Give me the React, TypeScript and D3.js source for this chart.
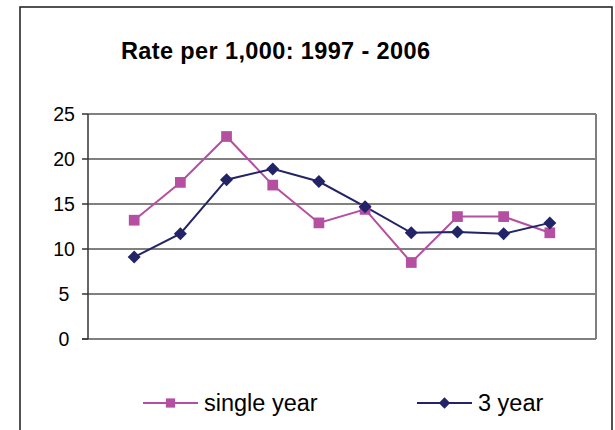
import { useRef, useEffect } from "react";
import * as d3 from "d3";

const years = ["1997", "1998", "1999", "2000", "2001", "2002", "2003", "2004", "2005", "2006"];
const singleYear = [13.2, 17.4, 22.5, 17.1, 12.9, 14.4, 8.5, 13.6, 13.6, 11.8];
const threeYear = [9.1, 11.7, 17.7, 18.9, 17.5, 14.7, 11.8, 11.9, 11.7, 12.9];
const yTicks = [0, 5, 10, 15, 20, 25];

const PINK = "#B44FA2";
const NAVY = "#232368";
const FONT = "Liberation Sans, Arial, sans-serif";

export default function App() {
  const svgRef = useRef<SVGSVGElement>(null);

  useEffect(() => {
    if (!svgRef.current) return;
    const svg = d3.select(svgRef.current);
    svg.selectAll("*").remove();

    const left = 88;
    const right = 596;
    const top = 114;
    const bottom = 339;

    const x = d3.scalePoint<string>().domain(years).range([left, right]).padding(1);
    const y = d3.scaleLinear().domain([0, 25]).range([bottom, top]);

    // outer frame
    svg
      .append("path")
      .attr("d", `M20,440 V7 H612 V440`)
      .attr("fill", "none")
      .attr("stroke", "#1a1a1a")
      .attr("stroke-width", 1.5);

    // title
    svg
      .append("text")
      .attr("x", 275.5)
      .attr("y", 59)
      .attr("text-anchor", "middle")
      .attr("font-family", FONT)
      .attr("font-weight", "bold")
      .attr("font-size", 23.5)
      .attr("textLength", 309)
      .attr("lengthAdjust", "spacing")
      .attr("fill", "#000")
      .text("Rate per 1,000: 1997 - 2006");

    // gridlines
    yTicks.forEach((t) => {
      svg
        .append("line")
        .attr("x1", t === 0 ? left - 6 : left)
        .attr("x2", right)
        .attr("y1", y(t))
        .attr("y2", y(t))
        .attr("stroke", "#808080")
        .attr("stroke-width", 2);
    });

    // plot right border
    svg
      .append("line")
      .attr("x1", right)
      .attr("x2", right)
      .attr("y1", top)
      .attr("y2", bottom)
      .attr("stroke", "#808080")
      .attr("stroke-width", 2);

    // y axis
    svg
      .append("line")
      .attr("x1", left)
      .attr("x2", left)
      .attr("y1", top)
      .attr("y2", bottom)
      .attr("stroke", "#333")
      .attr("stroke-width", 1.5);

    yTicks.forEach((t) => {
      svg
        .append("line")
        .attr("x1", left - 6)
        .attr("x2", left)
        .attr("y1", y(t))
        .attr("y2", y(t))
        .attr("stroke", "#333")
        .attr("stroke-width", 1.5);
      svg
        .append("text")
        .attr("x", 64)
        .attr("y", y(t))
        .attr("dy", "0.36em")
        .attr("text-anchor", "middle")
        .attr("font-family", FONT)
        .attr("font-size", 19.5)
        .attr("fill", "#000")
        .text(t);
    });

    const line = d3
      .line<number>()
      .x((_, i) => x(years[i])!)
      .y((d) => y(d));

    const square = d3.symbol().type(d3.symbolSquare).size(115);
    const diamond = d3.symbol().type(d3.symbolSquare).size(85);

    // single year
    svg
      .append("path")
      .attr("d", line(singleYear)!)
      .attr("fill", "none")
      .attr("stroke", PINK)
      .attr("stroke-width", 2);

    // 3 year
    svg
      .append("path")
      .attr("d", line(threeYear)!)
      .attr("fill", "none")
      .attr("stroke", NAVY)
      .attr("stroke-width", 2);

    svg
      .selectAll(".sq")
      .data(singleYear)
      .join("path")
      .attr("d", square()!)
      .attr("transform", (d, i) => `translate(${x(years[i])},${y(d)})`)
      .attr("fill", PINK);

    svg
      .selectAll(".dm")
      .data(threeYear)
      .join("path")
      .attr("d", diamond()!)
      .attr("transform", (d, i) => `translate(${x(years[i])},${y(d)}) rotate(45)`)
      .attr("fill", NAVY);

    // legend
    const legend = [
      { label: "single year", color: PINK, size: 85, rot: 0, x0: 143 },
      { label: "3 year", color: NAVY, size: 65, rot: 45, x0: 417 },
    ];
    const ly = 403;
    legend.forEach((l) => {
      svg
        .append("line")
        .attr("x1", l.x0)
        .attr("x2", l.x0 + 55)
        .attr("y1", ly)
        .attr("y2", ly)
        .attr("stroke", l.color)
        .attr("stroke-width", 2);
      svg
        .append("path")
        .attr("d", d3.symbol().type(d3.symbolSquare).size(l.size)()!)
        .attr("transform", `translate(${l.x0 + 27.5},${ly}) rotate(${l.rot})`)
        .attr("fill", l.color);
      svg
        .append("text")
        .attr("x", l.x0 + 61)
        .attr("y", ly)
        .attr("dy", "0.36em")
        .attr("font-family", FONT)
        .attr("font-size", 23.5)
        .attr("fill", "#000")
        .text(l.label);
    });
  }, []);

  return (
    <svg
      ref={svgRef}
      width={615}
      height={430}
      style={{ position: "absolute", left: 0, top: 0, background: "#fff" }}
    />
  );
}
